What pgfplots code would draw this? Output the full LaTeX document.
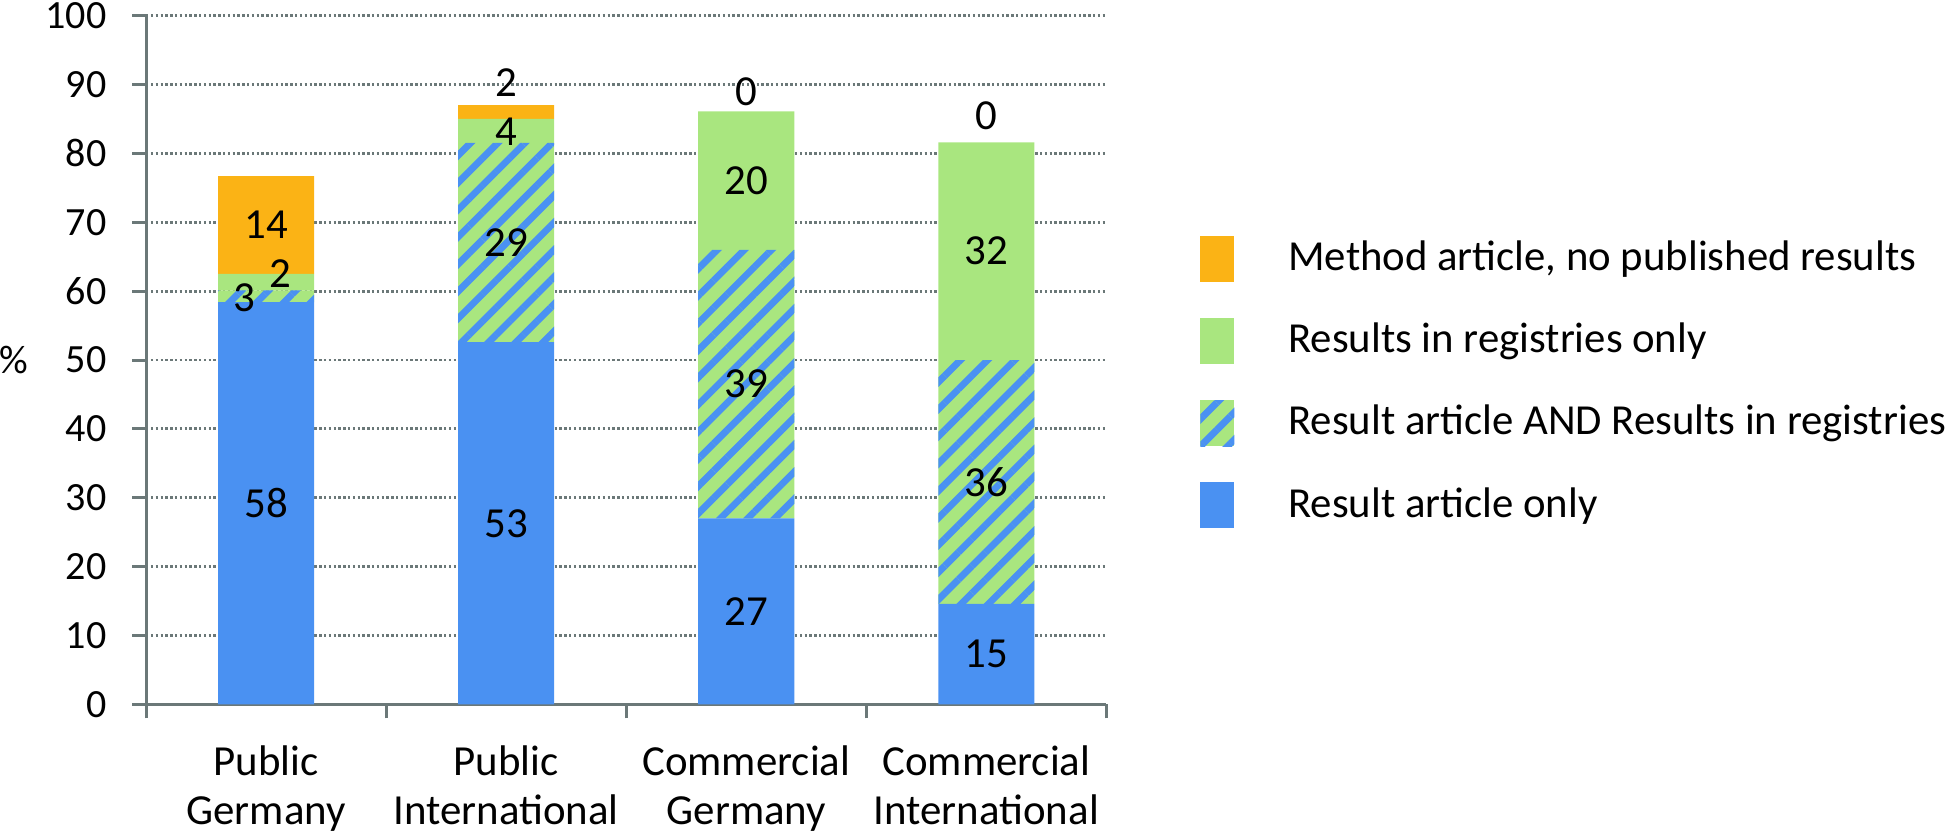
\documentclass[border=0pt]{standalone}
\usepackage{fontspec}
\setmainfont{Carlito}
\usepackage{pgfplots}
\pgfplotsset{compat=1.18}
\usepackage{pgfplotstable}
\usetikzlibrary{patterns.meta}

\definecolor{resblue}{HTML}{4A91F2}
\definecolor{reggreen}{HTML}{A9E67F}
\definecolor{methorange}{HTML}{FBB315}
\definecolor{axisgray}{HTML}{6B7878}

% segment heights (%)
\pgfplotstableread{
x y
0 58.4
1 52.6
2 27.0
3 14.6
}\resultonly
\pgfplotstableread{
x y
0 1.7
1 28.9
2 39.0
3 35.4
}\both
\pgfplotstableread{
x y
0 2.4
1 3.5
2 20.1
3 31.6
}\regonly
\pgfplotstableread{
x y
0 14.2
1 2.0
2 0
3 0
}\method
% printed labels and where they sit
\pgfplotstableread{
x y label
-0.09 59.0 3
0.06 62.6 2
0 69.6 14
0 29.2 58
1 26.3 53
1 67.0 29
1 83.2 4
1 90.3 2
2 13.5 27
2 46.5 39
2 76.0 20
2 88.9 0
3 7.3 15
3 32.3 36
3 65.8 32
3 85.5 0
}\labels

\begin{document}
\begin{tikzpicture}
\begin{axis}[
  ybar stacked,
  bar width=0.4,
  width=239.75pt, height=172pt, scale only axis,
  xmin=-0.5, xmax=3.5, ymin=0, ymax=100,
  axis lines*=left,
  axis line style={-, draw=axisgray, line width=0.75pt},
  tick align=outside,
  major tick length=3.5pt,
  tick style={draw=axisgray, line width=0.75pt},
  ytick={0,10,...,100},
  yticklabel style={font=\fontsize{10}{11}\selectfont, inner xsep=0pt, inner ysep=0.6pt, xshift=-6.2pt},
  /pgf/number format/assume math mode=true,
  xtick={0,1,2,3},
  xticklabels={{Public\\Germany},{Public\\International},{Commercial\\Germany},{Commercial\\International}},
  xticklabel style={align=center, font=\fontsize{10.7}{12.25}\selectfont, inner sep=0pt, yshift=-6.5pt},
  xtick style={draw=none},
  extra x ticks={-0.5,0.5,1.5,2.5,3.5},
  extra x tick labels={},
  extra x tick style={grid=none, xtick style={draw=axisgray, line width=0.75pt}},
  ymajorgrids,
  grid style={draw=axisgray, line width=0.7pt, dash pattern=on 0.6pt off 0.6pt},
  ylabel={\%},
  ylabel style={rotate=-90, at={(rel axis cs:0,0.5)}, anchor=center, xshift=-32.9pt, inner sep=0pt,
    font=\fontsize{10}{11}\selectfont},
  legend style={draw=none, fill=none, at={(rel axis cs:1.097,0.468)}, anchor=west, inner sep=0pt,
    font=\fontsize{10.68}{12}\selectfont, row sep=9pt, cells={anchor=west}, nodes={inner sep=0pt},
    /tikz/every odd column/.append style={column sep=13.5pt}},
  legend reversed,
  legend image code/.code={\fill[#1] (0pt,-5.75pt) rectangle (8.5pt,5.75pt);},
]
\addplot[fill=resblue, draw=none] table {\resultonly};
\addplot[fill=reggreen, draw=none, postaction={pattern={Lines[angle=45,distance=4.8pt,line width=1.7pt]}, pattern color=resblue}] table {\both};
\addplot[fill=reggreen, draw=none] table {\regonly};
\addplot[fill=methorange, draw=none] table {\method};
\legend{Result article only, Result article AND Results in registries, Results in registries only, {Method article, no published results}}
\end{axis}
\begin{axis}[
  width=239.75pt, height=172pt, scale only axis,
  xmin=-0.5, xmax=3.5, ymin=0, ymax=100,
  hide axis,
]
\addplot[draw=none, mark=none, nodes near coords, point meta=explicit symbolic,
  nodes near coords style={anchor=center, font=\fontsize{10.7}{12}\selectfont}]
  table[x=x, y=y, meta=label] {\labels};
\end{axis}
\end{tikzpicture}
\end{document}
